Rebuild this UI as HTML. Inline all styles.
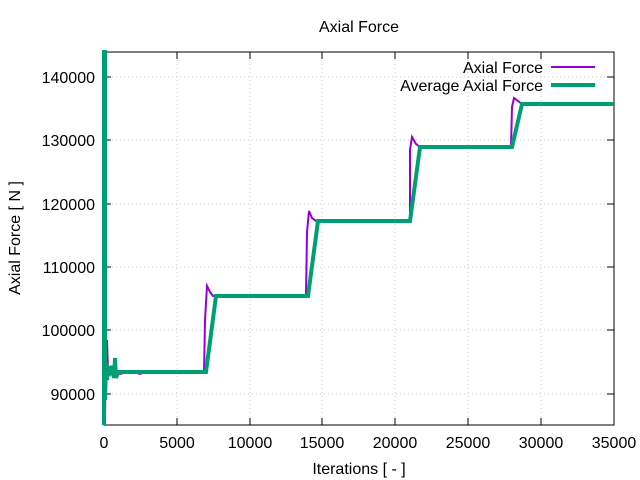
<!DOCTYPE html>
<html><head><style>body{margin:0;background:#fff}svg{display:block}text{font-family:"Liberation Sans",sans-serif;font-size:16px;fill:#000}</style></head><body>
<svg width="640" height="480" xmlns="http://www.w3.org/2000/svg">
<g stroke="#ccc" stroke-dasharray="1,3" stroke-width="1">
<line x1="104" y1="77" x2="614" y2="77"/><line x1="104" y1="140" x2="614" y2="140"/><line x1="104" y1="204" x2="614" y2="204"/><line x1="104" y1="267" x2="614" y2="267"/><line x1="104" y1="330" x2="614" y2="330"/><line x1="104" y1="394" x2="614" y2="394"/>
<line x1="177" y1="52" x2="177" y2="425"/><line x1="250" y1="52" x2="250" y2="425"/><line x1="322" y1="52" x2="322" y2="425"/><line x1="395" y1="52" x2="395" y2="425"/><line x1="468" y1="52" x2="468" y2="425"/><line x1="541" y1="52" x2="541" y2="425"/>
</g>
<g stroke="#000" stroke-width="1">
<line x1="104" y1="77" x2="111" y2="77"/><line x1="104" y1="140" x2="111" y2="140"/><line x1="104" y1="204" x2="111" y2="204"/><line x1="104" y1="267" x2="111" y2="267"/><line x1="104" y1="330" x2="111" y2="330"/><line x1="104" y1="394" x2="111" y2="394"/>
<line x1="607" y1="77" x2="614" y2="77"/><line x1="607" y1="140" x2="614" y2="140"/><line x1="607" y1="204" x2="614" y2="204"/><line x1="607" y1="267" x2="614" y2="267"/><line x1="607" y1="330" x2="614" y2="330"/><line x1="607" y1="394" x2="614" y2="394"/>
<line x1="177" y1="425" x2="177" y2="418"/><line x1="250" y1="425" x2="250" y2="418"/><line x1="322" y1="425" x2="322" y2="418"/><line x1="395" y1="425" x2="395" y2="418"/><line x1="468" y1="425" x2="468" y2="418"/><line x1="541" y1="425" x2="541" y2="418"/>
<line x1="177" y1="52" x2="177" y2="59"/><line x1="250" y1="52" x2="250" y2="59"/><line x1="322" y1="52" x2="322" y2="59"/><line x1="395" y1="52" x2="395" y2="59"/><line x1="468" y1="52" x2="468" y2="59"/><line x1="541" y1="52" x2="541" y2="59"/>
</g>
<rect x="104" y="52" width="510" height="373" fill="none" stroke="#000"/>
<g text-anchor="end"><text x="95" y="83">140000</text><text x="95" y="146">130000</text><text x="95" y="210">120000</text><text x="95" y="273">110000</text><text x="95" y="336">100000</text><text x="95" y="400">90000</text></g>
<g text-anchor="middle"><text x="104" y="448">0</text><text x="177" y="448">5000</text><text x="250" y="448">10000</text><text x="322" y="448">15000</text><text x="395" y="448">20000</text><text x="468" y="448">25000</text><text x="541" y="448">30000</text><text x="614" y="448">35000</text>
<text x="359" y="474">Iterations [ - ]</text><text x="359" y="32">Axial Force</text>
<text transform="translate(20,238) rotate(-90)">Axial Force [ N ]</text></g>
<polyline fill="none" stroke="#9400d3" stroke-width="2" points="104,425 105,52 105,425 106,310 106,380 107,340 108,372 110,368 112,374 116,370 120,374 130,371 140,374 145,372 150,373 204,373 205,320 207,286 210,292 213,296 220,296 306,296 307,232 309,211 312,218 316,221 410,221 410,150 412,137 416,144 420,147 511,147 512,107 514,98 518,101 522,104 614,104"/>
<polyline fill="none" stroke="#009e73" stroke-width="4" points="104,425 104,52 105,52 105,400 106,365 107,380 108,368 110,372 112,366 114,378 115,358 116,378 118,372 206,372 216,296 308,296 318,221 410,221 420,147 512,147 522,104 614,104"/>
<g text-anchor="end"><text x="543" y="73">Axial Force</text><text x="543" y="91">Average Axial Force</text></g>
<line x1="551" y1="67" x2="595" y2="67" stroke="#9400d3" stroke-width="2"/>
<line x1="551" y1="85" x2="595" y2="85" stroke="#009e73" stroke-width="4"/>
</svg>
</body></html>
